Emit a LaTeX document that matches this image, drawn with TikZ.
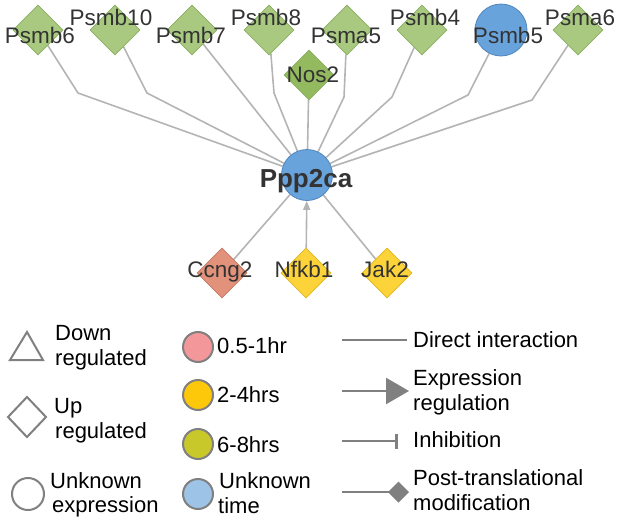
\documentclass[tikz,border=0pt]{standalone}
\usepackage{fontspec}
\setmainfont{Liberation Sans}
\usetikzlibrary{shapes.geometric,arrows.meta,backgrounds}
\definecolor{upgreen}{HTML}{A8C97F}
\definecolor{upgreenD}{HTML}{8CAE62}
\definecolor{nosgreen}{HTML}{93BA5E}
\definecolor{unkblue}{HTML}{69A3DC}
\definecolor{unkblueD}{HTML}{4F86BE}
\definecolor{salmon}{HTML}{E2917A}
\definecolor{salmonD}{HTML}{C47A66}
\definecolor{gold}{HTML}{FDD33A}
\definecolor{goldD}{HTML}{E0B520}
\definecolor{edgegray}{HTML}{B4B4B4}
\definecolor{leggray}{HTML}{808080}
\definecolor{lpink}{HTML}{F4979B}
\definecolor{lgold}{HTML}{FDC80A}
\definecolor{lolive}{HTML}{C8C82A}
\definecolor{lblue}{HTML}{9DC3E6}
\definecolor{txt}{HTML}{333333}
\tikzset{
  updia/.style={diamond, aspect=1, minimum width=50pt, minimum height=50pt, inner sep=0pt, fill=upgreen, draw=upgreenD, line width=0.8pt},
  unkcirc/.style={circle, minimum size=#1, inner sep=0pt, fill=unkblue, draw=unkblueD, line width=0.8pt},
  lbl/.style={anchor=base, font=\fontsize{22.5}{27}\selectfont, text=txt, inner sep=0pt},
  ltxt/.style={anchor=base west, font=\fontsize{22}{26}\selectfont, text=black, inner sep=0pt},
  net/.style={draw=edgegray, line width=1.6pt},
  leg/.style={draw=leggray, line width=2.6pt},
  legdot/.style={circle, minimum size=30pt, inner sep=0pt, draw=leggray, line width=2pt}
}
\begin{document}
\begin{tikzpicture}[x=1pt,y=-1pt]
\useasboundingbox (0,0) rectangle (620,525);
% network nodes
\node[updia] (psmb6) at (38,30) {};
\node[updia] (psmb10) at (115,30) {};
\node[updia] (psmb7) at (192,30) {};
\node[updia] (psmb8) at (269,30) {};
\node[updia, fill=nosgreen] (nos2) at (309,75) {};
\node[updia] (psma5) at (347,30) {};
\node[updia] (psmb4) at (422,30) {};
\node[unkcirc=52pt] (psmb5) at (501,30) {};
\node[updia] (psma6) at (578,30) {};
\node[unkcirc=51pt] (ppp) at (307,175) {};
\node[updia, fill=salmon, draw=salmonD] (ccng2) at (222,273) {};
\node[updia, fill=gold, draw=goldD] (nfkb1) at (306,273) {};
\node[updia, fill=gold, draw=goldD] (jak2) at (387,273) {};
% labels
\node[lbl] at (40,43) {Psmb6};
\node[lbl] at (111,25) {Psmb10};
\node[lbl] at (191,43) {Psmb7};
\node[lbl] at (266,25) {Psmb8};
\node[lbl] at (313,82) {Nos2};
\node[lbl] at (346,43) {Psma5};
\node[lbl] at (425,25) {Psmb4};
\node[lbl] at (508,43) {Psmb5};
\node[lbl] at (580,25) {Psma6};
\node[lbl, font=\fontsize{26}{31}\selectfont\bfseries] at (306,187) {Ppp2ca};
\node[lbl] at (220,277) {Ccng2};
\node[lbl] at (304,277) {Nfkb1};
\node[lbl] at (385,277) {Jak2};
% bend points
\coordinate (b6) at (78,93);
\coordinate (b10) at (147,93);
\coordinate (b8) at (274,93);
\coordinate (ba5) at (344,97);
\coordinate (b4) at (392,97);
\coordinate (b5) at (468,95);
\coordinate (ba6) at (532,100);
\begin{scope}[on background layer]
\draw[net] (psmb6) -- (b6) -- (ppp);
\draw[net] (psmb10) -- (b10) -- (ppp);
\draw[net] (psmb7) -- (ppp);
\draw[net] (psmb8) -- (b8) -- (ppp);
\draw[net] (nos2) -- (ppp);
\draw[net] (psma5) -- (ba5) -- (ppp);
\draw[net] (psmb4) -- (b4) -- (ppp);
\draw[net] (psmb5) -- (b5) -- (ppp);
\draw[net] (psma6) -- (ba6) -- (ppp);
\draw[net] (ccng2) -- (ppp);
\draw[net, -{Triangle[length=9pt,width=7pt]}] (nfkb1) -- (ppp);
\draw[net] (jak2) -- (ppp);
\end{scope}
% legend: shapes
\draw[draw=leggray, line width=2pt, line join=miter] (10,360) -- (43,360) -- (27,332) -- cycle;
\draw[draw=leggray, line width=2pt] (8,417) -- (27,397) -- (46,417) -- (27,437) -- cycle;
\draw[draw=leggray, line width=2pt] (28,494) circle (16);
\node[ltxt] at (55,340) {Down};
\node[ltxt] at (55,365) {regulated};
\node[ltxt] at (54,413) {Up};
\node[ltxt] at (55,438) {regulated};
\node[ltxt] at (50,488) {Unknown};
\node[ltxt] at (52,512) {expression};
% legend: time colours
\node[legdot, fill=lpink] (t1) at (198,347) {};
\node[legdot, fill=lgold] (t2) at (198,395) {};
\node[legdot, fill=lolive] (t3) at (198,444) {};
\node[legdot, fill=lblue] (t4) at (198,494) {};
\node[ltxt] at (217,353) {0.5-1hr};
\node[ltxt] at (217,402) {2-4hrs};
\node[ltxt] at (217,452) {6-8hrs};
\node[ltxt] at (219,488) {Unknown};
\node[ltxt] at (218,513) {time};
% legend: edge types
\coordinate (e1a) at (342,340); \coordinate (e1b) at (407,340);
\coordinate (e2a) at (342,391); \coordinate (e2b) at (409,391);
\coordinate (e3a) at (342,441); \coordinate (e3b) at (398,441);
\coordinate (e4a) at (342,492); \coordinate (e4b) at (409,492);
\draw[leg] (e1a) -- (e1b);
\draw[leg, -{Triangle[length=23pt,width=26pt,fill=leggray]}] (e2a) -- (e2b);
\draw[leg, -{Bar[width=15pt,line width=2.6pt]}] (e3a) -- (e3b);
\draw[leg, -{Diamond[length=21pt,width=21pt,fill=leggray,line width=0pt]}] (e4a) -- (e4b);
\node[ltxt] at (413,347) {Direct interaction};
\node[ltxt] at (413,385) {Expression};
\node[ltxt] at (413,410) {regulation};
\node[ltxt] at (413,447) {Inhibition};
\node[ltxt] at (413,485) {Post-translational};
\node[ltxt] at (413,510) {modification};
\end{tikzpicture}
\end{document}
